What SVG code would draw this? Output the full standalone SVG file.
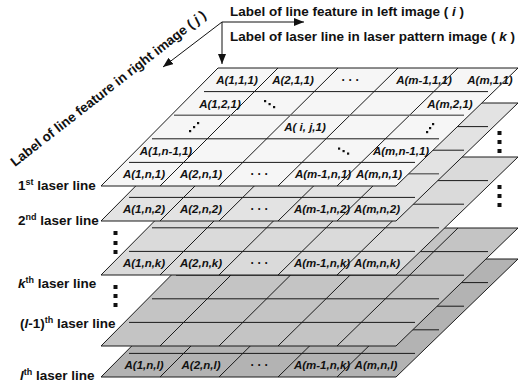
<svg xmlns="http://www.w3.org/2000/svg" width="526" height="387" viewBox="0 0 526 387">
  <style>
    .plane { stroke: #1a1a1a; stroke-width: 1; stroke-linejoin: miter; }
    .grid { fill: none; stroke: #1a1a1a; stroke-width: 1; }
    .grid-soft { fill: none; stroke: #6e6e6e; stroke-width: 1.6; }
    .cell { font-family: "Liberation Sans", Arial, sans-serif; font-size: 11.5px; font-weight: bold; font-style: italic; fill: #111; text-anchor: middle; }
    .dots { font-family: "Liberation Sans", Arial, sans-serif; font-size: 12px; font-weight: bold; fill: #111; text-anchor: middle; letter-spacing: 3px; }
    .lbl { font-family: "Liberation Sans", Arial, sans-serif; font-size: 13.5px; font-weight: bold; fill: #111; }
    .sup { font-size: 9px; }
    .it { font-style: italic; }
    .axis { fill: none; stroke: #111; stroke-width: 1; }
    .sq { fill: #111; }
  </style>
  <defs>
    <marker id="head" viewBox="0 0 10 8" refX="10" refY="4" markerWidth="10" markerHeight="8" markerUnits="userSpaceOnUse" orient="auto">
      <path d="M0,0 L10,4 L0,8 z" fill="#111"/>
    </marker>
  </defs>

  <rect width="526" height="387" fill="#ffffff"/>

  <!-- planes drawn back to front: each plane is a 5 x 5 grid, local y=0 is its top edge -->
  <g id="layer-l" transform="translate(0,259)">
    <polygon class="plane" points="218,0 518,0 396,118 101,118" fill="#b3b3b3"/>
    <path class="grid" d="M278,0 L160,118 M338,0 L219,118 M398,0 L278,118 M458,0 L337,118 M200,23.6 H488 M176,47.2 H464 M152,70.8 H439 M129,94.4 H415"/>
    <text class="cell" x="144" y="110">A(1,n,l)</text>
    <text class="cell" x="201" y="110">A(2,n,l)</text>
    <text class="dots" x="261" y="110">···</text>
    <text class="cell" x="322" y="110">A(m-1,n,k)</text>
    <text class="cell" x="376" y="110">A(m,n,l)</text>
  </g>

  <g id="layer-l-1" transform="translate(0,228)">
    <polygon class="plane" points="218,0 518,0 396,118 101,118" fill="#c4c4c4"/>
    <path class="grid" d="M278,0 L160,118 M338,0 L219,118 M398,0 L278,118 M458,0 L337,118 M200,23.6 H488 M176,47.2 H464 M152,70.8 H439 M129,94.4 H415"/>
  </g>

  <g id="layer-k" transform="translate(0,157)">
    <polygon class="plane" points="218,0 518,0 396,118 101,118" fill="#dadada"/>
    <path class="grid" d="M278,0 L160,118 M338,0 L219,118 M398,0 L278,118 M458,0 L337,118 M200,23.6 H488 M176,47.2 H464 M152,70.8 H439 M129,94.4 H415"/>
    <text class="cell" x="144" y="110">A(1,n,k)</text>
    <text class="cell" x="201" y="110">A(2,n,k)</text>
    <text class="dots" x="261" y="110">···</text>
    <text class="cell" x="322" y="110">A(m-1,n,k)</text>
    <text class="cell" x="377" y="110">A(m,n,k)</text>
  </g>

  <g id="layer-2" transform="translate(0,103)">
    <polygon class="plane" points="218,0 518,0 396,118 101,118" fill="#e3e3e3"/>
    <path class="grid" d="M278,0 L160,118 M338,0 L219,118 M398,0 L278,118 M458,0 L337,118 M200,23.6 H488 M176,47.2 H464 M129,94.4 H415"/>
    <path class="grid-soft" d="M152,70.8 H439"/>
    <text class="cell" x="144" y="110">A(1,n,2)</text>
    <text class="cell" x="201" y="110">A(2,n,2)</text>
    <text class="dots" x="261" y="110">···</text>
    <text class="cell" x="322" y="110">A(m-1,n,2)</text>
    <text class="cell" x="377" y="110">A(m,n,2)</text>
  </g>

  <g id="layer-1" transform="translate(0,68)">
    <polygon class="plane" points="218,0 518,0 396,118 101,118" fill="#f6f6f6"/>
    <path class="grid" d="M278,0 L160,118 M338,0 L219,118 M398,0 L278,118 M458,0 L337,118 M204,23.6 H488 M152,70.8 H439 M129,94.4 H415"/>
    <path class="grid-soft" d="M174,47.2 H464"/>
    <!-- row 1 -->
    <text class="cell" x="237" y="16">A(1,1,1)</text>
    <text class="cell" x="293" y="16">A(2,1,1)</text>
    <text class="dots" x="352" y="16">···</text>
    <text class="cell" x="424" y="16">A(m-1,1,1)</text>
    <text class="cell" x="490" y="16">A(m,1,1)</text>
    <!-- row 2 -->
    <text class="cell" x="220" y="39.5">A(1,2,1)</text>
    <rect class="sq" x="264" y="32" width="2.2" height="2.2"/>
    <rect class="sq" x="268.5" y="35" width="2.2" height="2.2"/>
    <rect class="sq" x="273" y="38" width="2.2" height="2.2"/>
    <text class="cell" x="450" y="39.5">A(m,2,1)</text>
    <!-- row 3 -->
    <rect class="sq" x="189" y="62" width="2.2" height="2.2"/>
    <rect class="sq" x="193" y="58" width="2.2" height="2.2"/>
    <rect class="sq" x="197" y="54" width="2.2" height="2.2"/>
    <text class="cell" x="305" y="63">A( i, j,1)</text>
    <rect class="sq" x="426" y="63" width="2.2" height="2.2"/>
    <rect class="sq" x="429" y="59" width="2.2" height="2.2"/>
    <rect class="sq" x="432" y="55" width="2.2" height="2.2"/>
    <!-- row 4 -->
    <text class="cell" x="166" y="87">A(1,n-1,1)</text>
    <rect class="sq" x="338" y="79.5" width="2.2" height="2.2"/>
    <rect class="sq" x="342.5" y="82" width="2.2" height="2.2"/>
    <rect class="sq" x="347" y="84.5" width="2.2" height="2.2"/>
    <text class="cell" x="401" y="87">A(m,n-1,1)</text>
    <!-- row 5 -->
    <text class="cell" x="144" y="110">A(1,n,1)</text>
    <text class="cell" x="201" y="110">A(2,n,1)</text>
    <text class="dots" x="261" y="110">···</text>
    <text class="cell" x="323" y="110">A(m-1,n,1)</text>
    <text class="cell" x="379" y="110">A(m,n,1)</text>
  </g>

  <!-- omitted planes between the listed ones -->
  <g id="gap-marks">
    <rect class="sq" x="113.5" y="231" width="4" height="4"/>
    <rect class="sq" x="113.5" y="241" width="4" height="4"/>
    <rect class="sq" x="113.5" y="250" width="4" height="4"/>
    <rect class="sq" x="113.5" y="285" width="4" height="4"/>
    <rect class="sq" x="113.5" y="294" width="4" height="4"/>
    <rect class="sq" x="113.5" y="303" width="4" height="4"/>
    <rect class="sq" x="497.5" y="131" width="4" height="4"/>
    <rect class="sq" x="497.5" y="140" width="4" height="4"/>
    <rect class="sq" x="497.5" y="149" width="4" height="4"/>
    <rect class="sq" x="497.5" y="185" width="4" height="4"/>
    <rect class="sq" x="497.5" y="194" width="4" height="4"/>
    <rect class="sq" x="497.5" y="203" width="4" height="4"/>
  </g>

  <!-- plane names -->
  <g id="plane-labels" class="lbl">
    <text x="18" y="190">1<tspan class="sup" dy="-5">st</tspan><tspan dy="5"> laser line</tspan></text>
    <text x="18" y="225">2<tspan class="sup" dy="-5">nd</tspan><tspan dy="5"> laser line</tspan></text>
    <text x="18" y="288"><tspan class="it">k</tspan><tspan class="sup" dy="-5">th</tspan><tspan dy="5"> laser line</tspan></text>
    <text x="20" y="328">(<tspan class="it">l</tspan>-1)<tspan class="sup" dy="-5">th</tspan><tspan dy="5"> laser line</tspan></text>
    <text x="20" y="380"><tspan class="it">l</tspan><tspan class="sup" dy="-5">th</tspan><tspan dy="5"> laser line</tspan></text>
  </g>

  <!-- index axes -->
  <g id="connectors">
    <path class="axis" d="M222,22 H304" marker-end="url(#head)"/>
    <path class="axis" d="M222,22 V64" marker-end="url(#head)"/>
    <path class="axis" d="M222,22 L163,67" marker-end="url(#head)"/>
  </g>
  <g id="axis-labels" class="lbl">
    <text x="230" y="16">Label of line feature in left image ( <tspan class="it">i</tspan> )</text>
    <text x="230" y="41">Label of laser line in laser pattern image ( <tspan class="it">k</tspan> )</text>
    <text transform="translate(15,167) rotate(-38)">Label of line feature in right image ( <tspan class="it">j</tspan> )</text>
  </g>
</svg>
